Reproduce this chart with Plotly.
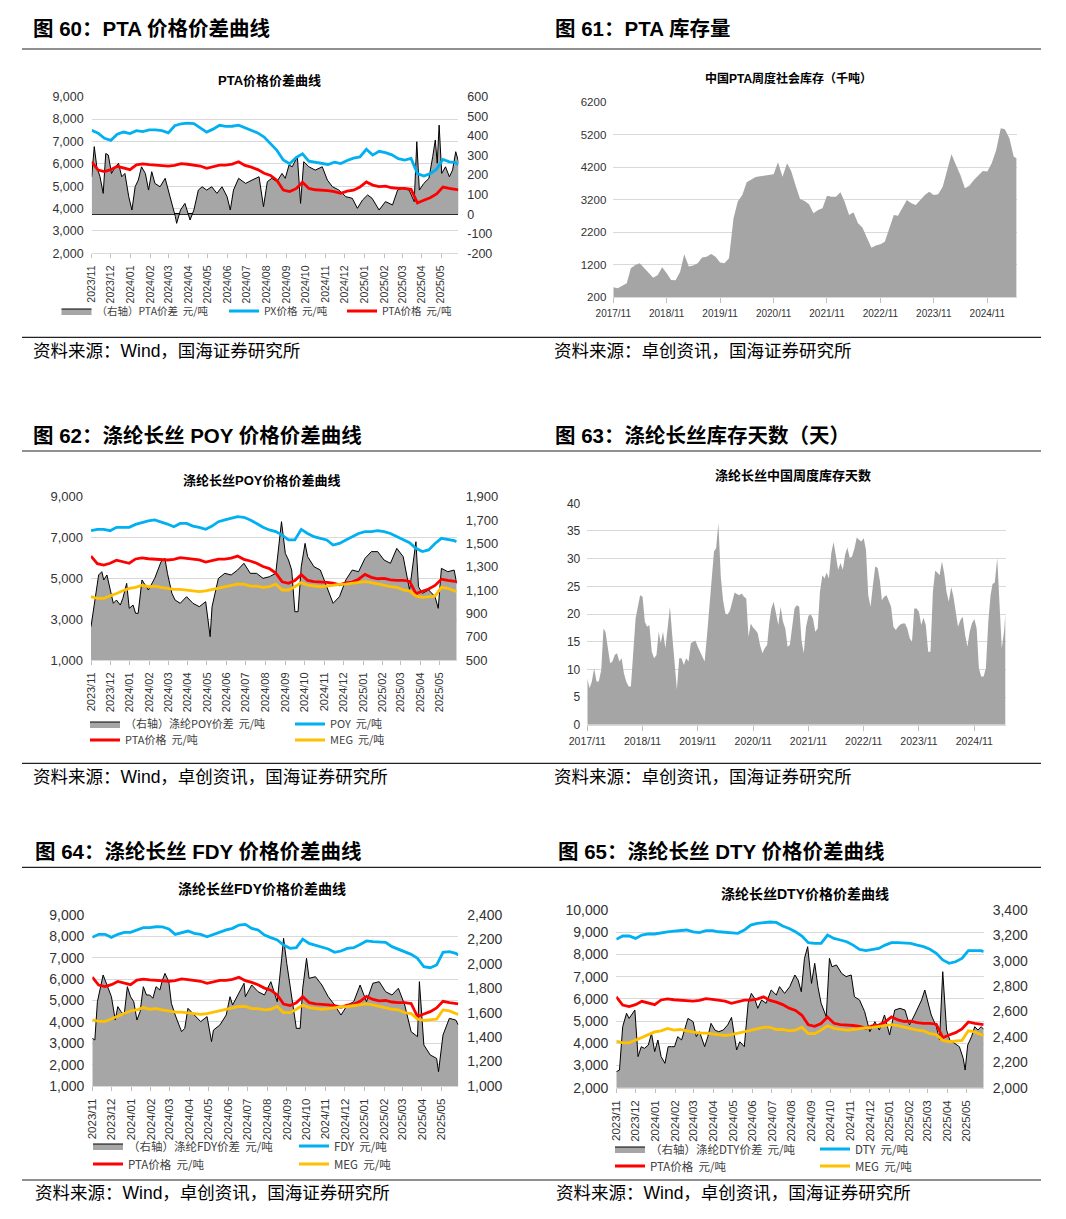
from datetime import date, timedelta
import plotly.graph_objects as go

# figure fits inside the page body (8px default body margin)
W, H = 1050, 1203
OFF = 8


def px(x):
    return (x - OFF) / W


def py(y):
    return 1 - (y - OFF) / H


# ---------------- data ----------------
PRICE_DATES = [
    "2023-11-01", "2023-11-11", "2023-11-21", "2023-12-01", "2023-12-11", "2023-12-21", "2023-12-31",
    "2024-01-10", "2024-01-20", "2024-01-30", "2024-02-09", "2024-02-19", "2024-02-29", "2024-03-10",
    "2024-03-20", "2024-03-30", "2024-04-09", "2024-04-19", "2024-04-29", "2024-05-09", "2024-05-19",
    "2024-05-29", "2024-06-08", "2024-06-18", "2024-06-28", "2024-07-08", "2024-07-18", "2024-07-28",
    "2024-08-07", "2024-08-17", "2024-08-27", "2024-09-06", "2024-09-16", "2024-09-26", "2024-10-06",
    "2024-10-16", "2024-10-26", "2024-11-05", "2024-11-15", "2024-11-25", "2024-12-05", "2024-12-15",
    "2024-12-25", "2025-01-04", "2025-01-14", "2025-01-24", "2025-02-03", "2025-02-13", "2025-02-23",
    "2025-03-05", "2025-03-15", "2025-03-25", "2025-04-04", "2025-04-14", "2025-04-24", "2025-05-04",
    "2025-05-14", "2025-05-24", "2025-05-28",
]

PTA_PRICE = [6090, 5720, 5650, 5740, 5890, 5800, 5740, 5950, 6000, 5960,
             5930, 5900, 5900, 5930, 6010, 5980, 5930, 5900, 5800, 5870,
             5940, 5940, 5990, 6090, 5930, 5850, 5740, 5580, 5480, 5260,
             4830, 4760, 4890, 5180, 4900, 4840, 4830, 4800, 4760, 4680,
             4780, 4820, 4960, 5190, 5050, 4980, 5000, 4930, 4900, 4900,
             4860, 4250, 4370, 4480, 4650, 4960, 4900, 4880, 4840]

PX_PRICE = [7500, 7370, 7140, 7050, 7320, 7420, 7350, 7480, 7440, 7520,
            7520, 7480, 7380, 7700, 7790, 7820, 7800, 7620, 7420, 7550,
            7720, 7670, 7680, 7730, 7610, 7500, 7380, 7200, 6900, 6600,
            6170, 6000, 6280, 6450, 6120, 6070, 6030, 5970, 6070, 6010,
            6150, 6250, 6310, 6650, 6390, 6560, 6500, 6400, 6230, 6170,
            6240, 5560, 5450, 5560, 5760, 6200, 6090, 6060, 5940]

POY_PRICE = [7335, 7400, 7400, 7335, 7500, 7500, 7500, 7645, 7725, 7820,
             7860, 7775, 7660, 7530, 7690, 7690, 7560, 7500, 7400, 7560,
             7775, 7860, 7940, 8020, 7990, 7860, 7690, 7500, 7370, 7290,
             7120, 6880, 6880, 7400, 7200, 7040, 6960, 6880, 6630, 6710,
             6880, 7040, 7200, 7290, 7290, 7335, 7290, 7200, 7040, 6910,
             6750, 6470, 6310, 6390, 6710, 6960, 6910, 6850, 6800]

MEG_PRICE = [4100, 4020, 4020, 4130, 4260, 4390, 4510, 4560, 4670, 4590,
             4620, 4560, 4510, 4460, 4460, 4430, 4390, 4350, 4390, 4460,
             4510, 4590, 4670, 4720, 4720, 4620, 4620, 4560, 4590, 4720,
             4430, 4430, 4590, 4790, 4670, 4620, 4590, 4620, 4670, 4700,
             4720, 4750, 4790, 4840, 4790, 4720, 4670, 4590, 4560, 4430,
             4390, 4130, 4070, 4100, 4130, 4560, 4510, 4390, 4350]

FDY_PRICE = [7955, 8095, 8095, 7955, 8095, 8190, 8190, 8300, 8410, 8410,
             8450, 8440, 8345, 8095, 8190, 8250, 8140, 8095, 7985, 8095,
             8190, 8300, 8375, 8530, 8560, 8375, 8300, 8065, 7940, 7830,
             7595, 7440, 7470, 7875, 7670, 7595, 7520, 7410, 7255, 7315,
             7440, 7470, 7625, 7785, 7750, 7750, 7720, 7520, 7410, 7285,
             7160, 6970, 6580, 6535, 6660, 7255, 7285, 7205, 7130]

DTY_PRICE = [8680, 8830, 8830, 8720, 8870, 8920, 8920, 8980, 9020, 9050,
             9070, 9100, 9020, 8980, 9070, 9070, 9020, 8990, 8990, 8950,
             9100, 9320, 9400, 9440, 9460, 9440, 9280, 9170, 9020, 8830,
             8530, 8500, 8500, 8870, 8720, 8650, 8570, 8420, 8230, 8170,
             8230, 8270, 8420, 8530, 8530, 8530, 8500, 8420, 8350, 8230,
             8050, 7750, 7600, 7670, 7820, 8170, 8170, 8170, 8120]

# spreads: reading day (days after 2023-11-01) and value, right axis
SPREAD_START = date(2023, 11, 1)

PTA_SPREAD_DAY = [0, 4, 8, 13, 18, 22, 26, 31, 37, 42, 47, 52, 58, 63, 68, 73, 78, 84, 89, 94,
                  99, 107, 115, 120, 126, 131, 133, 139, 146, 154, 160, 167, 173, 180, 188, 196,
                  204, 212, 217, 222, 230, 241, 251, 262, 269, 275, 282, 290, 298, 303, 309, 314,
                  322, 327, 332, 340, 350, 361, 369, 377, 387, 398, 408, 416, 424, 432, 439, 450,
                  460, 471, 479, 486, 497, 505, 509, 513, 520, 528, 534, 538, 541, 544, 548, 554,
                  560, 565, 570, 575]
PTA_SPREAD = [191, 345, 242, 191, 106, 310, 302, 208, 242, 260, 191, 208, 89, 21, 140, 174, 242,
              208, 123, 217, 157, 140, 183, 123, 55, -13, -47, 21, 55, -30, 21, 123, 140, 123, 140,
              106, 140, 89, 21, 123, 183, 157, 174, 191, 38, 166, 183, 166, 208, 183, 251, 242,
              294, 55, 268, 242, 225, 242, 174, 140, 123, 89, 81, 30, 72, 98, 81, 21, 64, 47, 123,
              132, 123, 64, 370, 123, 157, 183, 294, 379, 260, 455, 208, 242, 191, 225, 319, 260]

POY_SPREAD_DAY = [0, 6, 12, 17, 20, 25, 30, 35, 40, 46, 50, 56, 60, 66, 70, 74, 80, 90, 100, 110,
                  116, 120, 127, 132, 140, 150, 160, 170, 180, 187, 190, 200, 210, 220, 230, 240,
                  250, 260, 270, 280, 290, 297, 299, 305, 310, 315, 320, 325, 330, 336, 340, 350,
                  360, 370, 380, 390, 400, 410, 420, 430, 440, 450, 460, 470, 480, 490, 500, 510,
                  514, 520, 530, 540, 545, 550, 560, 570, 574]
POY_SPREAD = [786, 1014, 1229, 1257, 1186, 1229, 1100, 986, 1014, 971, 1029, 1157, 943, 971, 900,
              900, 1186, 1100, 1200, 1343, 1371, 1243, 1071, 1014, 986, 1043, 986, 957, 1000, 700,
              957, 1200, 1243, 1229, 1271, 1329, 1243, 1243, 1200, 1214, 1243, 1557, 1686, 1414,
              1357, 1271, 914, 914, 1300, 1500, 1386, 1300, 1271, 1129, 986, 1043, 1186, 1271,
              1257, 1371, 1429, 1429, 1357, 1329, 1457, 1386, 1100, 1514, 1129, 1071, 1100, 1043,
              943, 1286, 1257, 1271, 1157]

FDY_SPREAD_DAY = [0, 4, 8, 14, 17, 20, 25, 30, 36, 40, 45, 50, 55, 60, 65, 70, 75, 80, 85, 90,
                  95, 100, 106, 110, 114, 120, 124, 130, 140, 145, 150, 160, 170, 180, 187, 190,
                  200, 210, 216, 220, 230, 238, 240, 250, 260, 270, 280, 290, 297, 300, 305, 310,
                  320, 326, 330, 336, 340, 350, 360, 370, 380, 390, 400, 410, 420, 430, 440, 450,
                  460, 470, 480, 490, 500, 510, 513, 520, 530, 540, 543, 550, 560, 570, 574]
FDY_SPREAD = [1390, 1377, 1690, 1827, 1909, 1868, 1800, 1731, 1540, 1650, 1609, 1581, 1813, 1731,
              1690, 1540, 1609, 1813, 1745, 1745, 1718, 1813, 1786, 1868, 1922, 1854, 1677, 1581,
              1445, 1472, 1636, 1581, 1527, 1568, 1363, 1458, 1499, 1581, 1731, 1663, 1759, 1841,
              1731, 1827, 1772, 1745, 1854, 1690, 2045, 2209, 2004, 1827, 1472, 1472, 1800, 2045,
              1881, 1895, 1827, 1731, 1663, 1581, 1663, 1690, 1827, 1690, 1841, 1854, 1772, 1745,
              1800, 1663, 1445, 1404, 1854, 1336, 1254, 1226, 1117, 1418, 1554, 1540, 1500]

DTY_SPREAD_DAY = [0, 5, 10, 16, 20, 24, 29, 34, 39, 44, 50, 55, 60, 65, 70, 76, 81, 86, 91, 96,
                  102, 112, 120, 125, 130, 138, 143, 148, 154, 160, 167, 174, 180, 188, 193, 200,
                  206, 211, 216, 221, 227, 234, 242, 250, 255, 263, 271, 279, 284, 289, 294, 299,
                  305, 310, 315, 320, 328, 333, 337, 344, 352, 359, 367, 372, 380, 388, 396, 404,
                  411, 419, 427, 435, 443, 451, 458, 466, 477, 482, 487, 492, 500, 505, 510, 516,
                  521, 529, 536, 542, 545, 549, 555, 560, 565, 570, 574]
DTY_SPREAD = [2126, 2139, 2481, 2586, 2546, 2573, 2612, 2245, 2323, 2310, 2336, 2428, 2284, 2376,
              2245, 2192, 2323, 2323, 2323, 2402, 2376, 2546, 2520, 2402, 2441, 2323, 2402, 2507,
              2454, 2441, 2454, 2494, 2554, 2297, 2362, 2323, 2665, 2743, 2704, 2625, 2691, 2665,
              2770, 2730, 2796, 2743, 2796, 2888, 2848, 2756, 3019, 3111, 2822, 2980, 2796, 2665,
              2559, 3019, 2953, 2967, 2901, 2875, 2888, 2717, 2691, 2599, 2441, 2520, 2454, 2573,
              2415, 2612, 2625, 2612, 2494, 2573, 2691, 2770, 2678, 2573, 2481, 2376, 2914, 2454,
              2376, 2349, 2323, 2231, 2139, 2336, 2402, 2481, 2454, 2481, 2460]

MONTHS = [
    "2017-11", "2017-12",
    "2018-01", "2018-02", "2018-03", "2018-04", "2018-05", "2018-06",
    "2018-07", "2018-08", "2018-09", "2018-10", "2018-11", "2018-12",
    "2019-01", "2019-02", "2019-03", "2019-04", "2019-05", "2019-06",
    "2019-07", "2019-08", "2019-09", "2019-10", "2019-11", "2019-12",
    "2020-01", "2020-02", "2020-03", "2020-04", "2020-05", "2020-06",
    "2020-07", "2020-08", "2020-09", "2020-10", "2020-11", "2020-12",
    "2021-01", "2021-02", "2021-03", "2021-04", "2021-05", "2021-06",
    "2021-07", "2021-08", "2021-09", "2021-10", "2021-11", "2021-12",
    "2022-01", "2022-02", "2022-03", "2022-04", "2022-05", "2022-06",
    "2022-07", "2022-08", "2022-09", "2022-10", "2022-11", "2022-12",
    "2023-01", "2023-02", "2023-03", "2023-04", "2023-05", "2023-06",
    "2023-07", "2023-08", "2023-09", "2023-10", "2023-11", "2023-12",
    "2024-01", "2024-02", "2024-03", "2024-04", "2024-05", "2024-06",
    "2024-07", "2024-08", "2024-09", "2024-10", "2024-11", "2024-12",
    "2025-01", "2025-02", "2025-03", "2025-04", "2025-05",
]

# PTA weekly social inventory (kt), read at the start of each month, plus last reading
PTA_INV = [508, 477, 559, 631, 1092, 1195, 1246, 1092, 939, 805,
           887, 1123, 939, 733, 723, 990, 1523, 1144, 1175, 1246,
           1421, 1451, 1533, 1451, 1267, 1246, 1400, 2631, 3144, 3349,
           3738, 3810, 3903, 3923, 3944, 3944, 3985, 4354, 3913, 4323,
           4087, 3636, 3226, 3164, 3062, 2785, 2887, 2939, 3328, 3297,
           3297, 3431, 3144, 2733, 2815, 2477, 2344, 2036, 1728, 1790,
           1831, 1913, 2323, 2733, 2713, 2959, 3195, 3092, 3041, 3195,
           3349, 3451, 3349, 3369, 3605, 4118, 4600, 4272, 3964, 3554,
           3636, 3810, 3964, 4087, 4067, 4323, 4733, 5400, 5369, 5092,
           4528, 4480]
PTA_INV_LAST_DATE = "2025-05-20"

# polyester filament inventory days, read on the 1st and 16th of each month, plus last reading
FIL_DAYS = [8.4, 6.6, 7.8, 10.2, 7.8, 7.8, 9.9, 17.4, 16.8, 13.8,
            11.1, 11.4, 12.6, 12.9, 11.4, 12.0, 9.3, 7.8, 6.9, 6.9,
            14.4, 19.2, 21.3, 23.4, 23.1, 18.6, 17.7, 18.0, 13.2, 12.0,
            12.6, 16.8, 14.7, 16.8, 13.8, 17.1, 21.3, 16.2, 11.1, 6.3,
            12.0, 12.0, 10.8, 12.0, 11.4, 14.7, 15.0, 15.2, 14.1, 13.2,
            12.3, 11.4, 16.2, 21.0, 26.4, 31.3, 31.9, 36.4, 26.7, 22.5,
            20.1, 19.9, 20.7, 22.2, 23.9, 23.6, 23.4, 23.7, 23.1, 22.8,
            15.9, 18.3, 17.5, 17.1, 16.5, 14.4, 12.9, 13.8, 14.4, 18.6,
            21.0, 22.2, 20.3, 18.0, 21.3, 18.7, 17.4, 14.1, 14.4, 17.4,
            21.0, 21.6, 21.3, 15.3, 12.9, 17.7, 19.7, 19.9, 19.2, 16.8,
            17.4, 24.0, 27.0, 26.4, 27.5, 26.4, 31.0, 33.0, 30.7, 28.0,
            29.2, 28.0, 30.7, 32.0, 30.1, 30.4, 31.9, 33.8, 33.4, 33.1,
            33.7, 31.6, 23.4, 21.3, 25.2, 28.6, 28.3, 26.0, 22.5, 23.1,
            23.4, 22.3, 21.3, 17.7, 17.1, 17.7, 18.1, 18.3, 18.3, 17.4,
            15.6, 15.0, 21.0, 21.0, 20.4, 18.0, 19.3, 18.0, 13.2, 13.2,
            24.0, 27.8, 27.5, 27.0, 29.5, 27.3, 24.0, 22.2, 24.9, 23.1,
            20.7, 17.7, 18.9, 19.5, 16.2, 14.1, 16.8, 18.3, 19.1, 17.4,
            10.2, 8.7, 8.7, 10.2, 18.6, 23.4, 25.4, 25.7, 30.1, 21.6,
            13.8, 16.8, 20.1]
FIL_DAYS_LAST_DATE = "2025-05-25"

PTA_INV_DATES = [m + "-01" for m in MONTHS] + [PTA_INV_LAST_DATE]
FIL_DAYS_DATES = [m + d for m in MONTHS for d in ("-01", "-16")] + [FIL_DAYS_LAST_DATE]

PTA_SPREAD_TICKS = [-200, -100, 0, 100, 200, 300, 400, 500, 600]
PTA_SPREAD_TICKTEXT = ["-200", "-100", "0", "100", "200", "300", "400", "500", "600"]


def day_dates(days):
    return [(SPREAD_START + timedelta(days=d)).isoformat() for d in days]


# ---------------- style ----------------
BLUE = "#00B0F0"
RED = "#FF0000"
YELLOW = "#FFC000"
GRAY = "#A6A6A6"
GRID = "#D9D9D9"
TICKC = "#333333"
LAT = "Liberation Sans, Arial, Noto Sans CJK SC"
CJK = "Noto Sans CJK SC, Liberation Sans"
LW = 2.8

traces = []
legends = {}
leg_count = [0]


def add_legend(xpx, ypx, size):
    leg_count[0] += 1
    key = "legend" if leg_count[0] == 1 else "legend%d" % leg_count[0]
    legends[key] = dict(x=px(xpx - 4), y=py(ypx), xanchor="left", yanchor="middle",
                        orientation="h", bgcolor="rgba(0,0,0,0)", borderwidth=0,
                        font=dict(family=CJK, size=size, color="#404040"),
                        itemwidth=30, tracegroupgap=0)
    return key


def price_panel(xa, ybase, yover, sdays, spread, spread_name, lines, leg_pos, leg_size):
    traces.append(go.Scatter(x=day_dates(sdays), y=spread, xaxis=xa, yaxis=ybase, mode="lines",
                             fill="tozeroy", fillcolor=GRAY, line=dict(color="black", width=1),
                             name=spread_name, legend=add_legend(*leg_pos[0], leg_size)))
    for (vals, color, name), pos in zip(lines, leg_pos[1:]):
        traces.append(go.Scatter(x=PRICE_DATES, y=vals, xaxis=xa, yaxis=yover, mode="lines",
                                 line=dict(color=color, width=LW), name=name,
                                 legend=add_legend(*pos, leg_size)))


price_panel("x", "y", "y2", PTA_SPREAD_DAY, PTA_SPREAD, "（右轴）PTA价差  元/吨",
            [(PX_PRICE, BLUE, "PX价格  元/吨"), (PTA_PRICE, RED, "PTA价格  元/吨")],
            [(60.5, 311), (228, 311), (346, 311)], 10.5)
traces.append(go.Scatter(x=PTA_INV_DATES, y=PTA_INV, xaxis="x2", yaxis="y3", mode="lines",
                         fill="tozeroy", fillcolor="#A5A5A5", line=dict(width=0, color="#A5A5A5"),
                         showlegend=False))
price_panel("x3", "y4", "y5", POY_SPREAD_DAY, POY_SPREAD, "（右轴）涤纶POY价差  元/吨",
            [(POY_PRICE, BLUE, "POY  元/吨"), (PTA_PRICE, RED, "PTA价格  元/吨"),
             (MEG_PRICE, YELLOW, "MEG  元/吨")],
            [(89, 724), (294, 724), (89, 740), (294, 740)], 11)
traces.append(go.Scatter(x=FIL_DAYS_DATES, y=FIL_DAYS, xaxis="x4", yaxis="y6", mode="lines",
                         fill="tozeroy", fillcolor="#A5A5A5", line=dict(width=0, color="#A5A5A5"),
                         showlegend=False))
price_panel("x5", "y7", "y8", FDY_SPREAD_DAY, FDY_SPREAD, "（右轴）涤纶FDY价差  元/吨",
            [(FDY_PRICE, BLUE, "FDY  元/吨"), (PTA_PRICE, RED, "PTA价格  元/吨"),
             (MEG_PRICE, YELLOW, "MEG  元/吨")],
            [(92, 1146), (298, 1146), (92, 1164), (298, 1164)], 11.5)
price_panel("x6", "y9", "y10", DTY_SPREAD_DAY, DTY_SPREAD, "（右轴）涤纶DTY价差  元/吨",
            [(DTY_PRICE, BLUE, "DTY  元/吨"), (PTA_PRICE, RED, "PTA价格  元/吨"),
             (MEG_PRICE, YELLOW, "MEG  元/吨")],
            [(614, 1149), (819, 1149), (614, 1166), (819, 1166)], 11.5)

fig = go.Figure(traces)


def date_x(domain, anchor, size):
    return dict(type="date", domain=[px(domain[0]), px(domain[1])], anchor=anchor,
                range=["2023-11-01", "2025-05-28"], tick0="2023-11-01", dtick="M1",
                tickformat="%Y/%m", tickangle=-90, ticks="outside", ticklen=4,
                tickcolor="#BFBFBF", showgrid=False, showline=True, linecolor=GRID,
                automargin=False, zeroline=False,
                tickfont=dict(family=LAT, size=size, color=TICKC), ticklabelstandoff=3)


def base_y(domain, anchor, rng, tick0, dtick, size, **kw):
    d = dict(domain=[py(domain[1]), py(domain[0])], anchor=anchor, range=rng, tick0=tick0,
             dtick=dtick, side="right", showgrid=False, zeroline=False, tickformat=",",
             automargin=False, ticks="",
             tickfont=dict(family=LAT, size=size, color=TICKC), ticklabelstandoff=8)
    d.update(kw)
    return d


def over_y(over, anchor, rng, tick0, dtick, size):
    return dict(overlaying=over, anchor=anchor, range=rng, tick0=tick0, dtick=dtick, side="left",
                showgrid=True, gridcolor=GRID, gridwidth=1, zeroline=False, tickformat=",",
                automargin=False, ticks="",
                tickfont=dict(family=LAT, size=size, color=TICKC), ticklabelstandoff=7)


def inv_x(domain, anchor, rng, size):
    return dict(type="date", domain=[px(domain[0]), px(domain[1])], anchor=anchor, range=rng,
                tick0="2017-11-01", dtick="M12", tickformat="%Y/%m", tickangle=0,
                ticks="outside", ticklen=5, tickcolor="#BFBFBF", showgrid=False,
                showline=True, linecolor=GRID, automargin=False, zeroline=False,
                tickfont=dict(family=LAT, size=size, color=TICKC), ticklabelstandoff=2)


def inv_y(domain, anchor, rng, tick0, dtick, size):
    return dict(domain=[py(domain[1]), py(domain[0])], anchor=anchor, range=rng, tick0=tick0,
                dtick=dtick, showgrid=True, gridcolor=GRID, zeroline=False, tickformat="d",
                automargin=False, ticks="",
                tickfont=dict(family=LAT, size=size, color=TICKC), ticklabelstandoff=6)


layout = dict(
    template="none",
    width=W, height=H, autosize=False, margin=dict(l=0, r=0, t=0, b=0, pad=0),
    paper_bgcolor="white", plot_bgcolor="white", showlegend=True,
    xaxis=date_x((91.7, 458.3), "y", 10.5),
    yaxis=base_y((96.7, 253.3), "x", [-200, 600], -200, 100, 12.5, tickvals=PTA_SPREAD_TICKS,
                 ticktext=PTA_SPREAD_TICKTEXT, zeroline=True, zerolinecolor="#000000",
                 zerolinewidth=1.5),
    yaxis2=over_y("y", "x", [2000, 9000], 2000, 1000, 12.5),
    xaxis2=inv_x((613.3, 1016.7), "y3", ["2017-11-01", "2025-05-21"], 10),
    yaxis3=inv_y((102.3, 297.3), "x2", [200, 6200], 200, 1000, 11.5),
    xaxis3=date_x((91, 456.7), "y4", 11),
    yaxis4=base_y((496.7, 660), "x3", [500, 1900], 500, 200, 13),
    yaxis5=over_y("y4", "x3", [1000, 9000], 1000, 2000, 13),
    xaxis4=inv_x((587.3, 1005.7), "y6", ["2017-11-01", "2025-05-27"], 10.5),
    yaxis6=inv_y((503.3, 724.7), "x4", [0, 40], 0, 5, 12),
    xaxis5=date_x((92.3, 458.3), "y7", 11.5),
    yaxis7=base_y((915, 1086), "x5", [1000, 2400], 1000, 200, 14),
    yaxis8=over_y("y7", "x5", [1000, 9000], 1000, 1000, 14),
    xaxis6=date_x((616.3, 983.7), "y9", 11.5),
    yaxis9=base_y((910, 1087.7), "x6", [2000, 3400], 2000, 200, 14),
    yaxis10=over_y("y9", "x6", [2000, 10000], 2000, 1000, 14),
)
layout.update(legends)

annotations = []


def text(xpx, ypx, s, size, family, bold=False, anchor="left", color="#000000"):
    annotations.append(dict(x=px(xpx), y=py(ypx), xref="paper", yref="paper", text=s,
                            showarrow=False, xanchor=anchor, yanchor="middle",
                            font=dict(family=family, size=size, color=color,
                                      weight="bold" if bold else "normal")))


text(31, 28, "图 60：PTA 价格价差曲线", 20.5, LAT, bold=True)
text(553, 28, "图 61：PTA 库存量", 20.5, LAT, bold=True)
text(31, 435, "图 62：涤纶长丝 POY 价格价差曲线", 20.5, LAT, bold=True)
text(553, 435, "图 63：涤纶长丝库存天数（天）", 20.5, LAT, bold=True)
text(32.5, 851.7, "图 64：涤纶长丝 FDY 价格价差曲线", 20.5, LAT, bold=True)
text(555.5, 851.7, "图 65：涤纶长丝 DTY 价格价差曲线", 20.5, LAT, bold=True)
text(269.5, 80.7, "PTA价格价差曲线", 13, LAT, bold=True, anchor="center")
text(788, 78, "中国PTA周度社会库存（千吨）", 12, LAT, bold=True, anchor="center")
text(261.7, 481, "涤纶长丝POY价格价差曲线", 13, LAT, bold=True, anchor="center")
text(793, 476, "涤纶长丝中国周度库存天数", 13, LAT, bold=True, anchor="center")
text(261.7, 889.3, "涤纶长丝FDY价格价差曲线", 14, LAT, bold=True, anchor="center")
text(805, 894, "涤纶长丝DTY价格价差曲线", 14, LAT, bold=True, anchor="center")
SRC_A = "资料来源：Wind，国海证券研究所"
SRC_B = "资料来源：卓创资讯，国海证券研究所"
SRC_C = "资料来源：Wind，卓创资讯，国海证券研究所"
text(31, 350.7, SRC_A, 17.5, LAT)
text(552, 350.7, SRC_B, 17.5, LAT)
text(31, 777.3, SRC_C, 17.5, LAT)
text(552, 777.3, SRC_B, 17.5, LAT)
text(32.5, 1193.3, SRC_C, 17.5, LAT)
text(554, 1193.3, SRC_C, 17.5, LAT)

shapes = []
for yy in (49, 337.3, 451, 763.3, 867.3, 1180):
    shapes.append(dict(type="line", xref="paper", yref="paper", x0=px(22), x1=px(1041),
                       y0=py(yy), y1=py(yy), line=dict(color="#222222", width=1.2)))

layout["annotations"] = annotations
layout["shapes"] = shapes
fig.update_layout(**layout)

fig.write_html("out.html")
